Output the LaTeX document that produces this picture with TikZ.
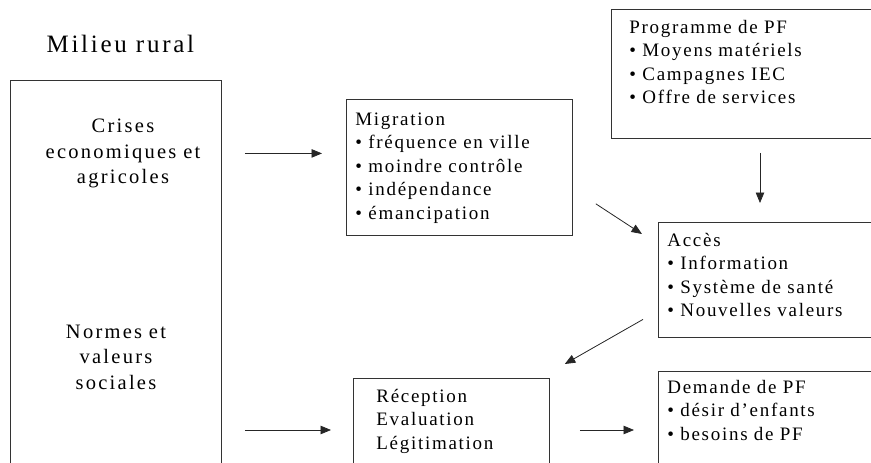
\documentclass[tikz,border=0pt]{standalone}
\usepackage{fontspec}
\setmainfont[LetterSpace=9]{Liberation Serif}
\newfontfamily\ruralfont[LetterSpace=11]{Liberation Serif}
\usetikzlibrary{arrows.meta}

\tikzset{
  box/.style={draw=black!80, line width=0.8pt, anchor=north west, inner ysep=0pt,
    align=left, font=\fontsize{19}{23.4}\selectfont},
  ruraltxt/.style={text width=200pt, align=center, anchor=base,
    font=\ruralfont\fontsize{20.5}{25.5}\selectfont},
  arr/.style={-{Triangle[length=10.5pt,width=8.5pt]}, line width=0.8pt, black!85}
}

\begin{document}
\begin{tikzpicture}[x=1pt,y=-1pt]
\useasboundingbox (0,0) rectangle (871,463);
\clip (0,0) rectangle (871,463);
% rural side
\node[anchor=base west, font=\ruralfont\fontsize{25}{30}\selectfont] (title) at (43,52) {Milieu rural};
\node[box, inner xsep=0pt, minimum width=211pt, minimum height=420pt] (rural) at (10,80) {};
\node[ruraltxt] (crises) at (123,132.5) {Crises\\economiques et\\agricoles};
\node[ruraltxt] (normes) at (116,338) {Normes et\\valeurs\\sociales};
% boxes
\node[box, inner xsep=9pt, text width=208pt, text height=26pt, text depth=110pt] (migration) at (346,99)
  {Migration\\• fréquence en ville\\• moindre contrôle\\• indépendance\\• émancipation};
\node[box, inner xsep=18pt, text width=250pt, text height=24pt, text depth=105pt] (programme) at (611,9)
  {Programme de PF\\• Moyens matériels\\• Campagnes IEC\\• Offre de services};
\node[box, inner xsep=9pt, text width=230pt, text height=24pt, text depth=91pt] (acces) at (658,222)
  {Accès\\• Information\\• Système de santé\\• Nouvelles valeurs};
\node[box, inner xsep=23pt, text width=150pt, text height=24pt, text depth=110pt] (reception) at (353,378)
  {Réception\\Evaluation\\Légitimation};
\node[box, inner xsep=9pt, text width=230pt, text height=22pt, text depth=120pt] (demande) at (658,371)
  {Demande de PF\\• désir d’enfants\\• besoins de PF};
% arrows
\coordinate (low) at (0,430); % edit here for the lower row
\coordinate (pf) at (760,0);
\draw[arr, shorten <=23pt, shorten >=24pt] (crises -| rural.east) -- (crises -| migration.west);
\draw[arr, shorten <=23pt, shorten >=22pt] (low -| rural.east) -- (low -| reception.west);
\draw[arr, shorten <=30pt, shorten >=24pt] (low -| reception.east) -- (low -| demande.west);
\draw[arr, shorten <=14pt, shorten >=19pt] (pf |- programme.south) -- (pf |- acces.north);
\draw[arr] ([xshift=23pt,yshift=32pt]migration.south east) -- ([xshift=-16pt,yshift=-12pt]acces.north west);
\draw[arr] ([xshift=-15pt,yshift=-39.5pt]acces.west) -- ([xshift=15pt,yshift=14pt]reception.north east);
\end{tikzpicture}
\end{document}
